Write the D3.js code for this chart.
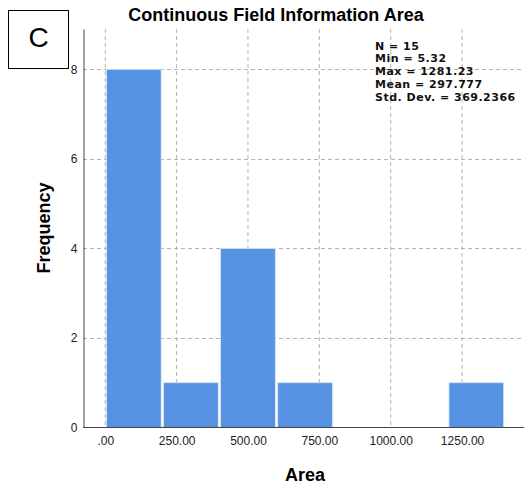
<!DOCTYPE html>
<html>
<head>
<meta charset="utf-8">
<script src="https://cdn.jsdelivr.net/npm/d3@7"></script>
<style>
  body { margin: 0; background: #fff; }
  svg { display: block; font-family: 'Liberation Sans', Arial, sans-serif; }
</style>
</head>
<body>
<div id="chart"></div>
<script>
// histogram data
const binStarts = [0, 200, 400, 600, 800, 1000, 1200]
const binCounts = [8, 1, 4, 1, 0, 0, 1]
const binWidth = 200
const xTicks = [0, 250, 500, 750, 1000, 1250]
const yTicks = [0, 2, 4, 6, 8]
const statLines = ['N = 15', 'Min = 5.32', 'Max = 1281.23', 'Mean = 297.777', 'Std. Dev. = 369.2366']
const title = 'Continuous Field Information Area'
const panelLabel = 'C'

const W = 524
const H = 490
const plot = { left: 83, right: 522, top: 29, bottom: 427.5 }
const barColor = '#5693e3'
const gridColor = '#b4b4b4'

const svg = d3.select('#chart').append('svg')
  .attr('width', W)
  .attr('height', H)

const x = d3.scaleLinear()
  .domain([-78, 1460])
  .range([plot.left, plot.right])
const y = d3.scaleLinear()
  .domain([0, 8.9])
  .range([plot.bottom, plot.top])

// grid
let grid = svg.append('g')
grid.selectAll('.vgrid')
  .data(xTicks)
  .enter()
  .append('line')
  .attr('x1', d => x(d))
  .attr('x2', d => x(d))
  .attr('y1', plot.top)
  .attr('y2', plot.bottom)
  .style('stroke', gridColor)
  .style('stroke-dasharray', '4,3')
grid.selectAll('.hgrid')
  .data(yTicks.filter(d => d > 0))
  .enter()
  .append('line')
  .attr('x1', plot.left)
  .attr('x2', W)
  .attr('y1', d => Math.round(y(d)) + 0.5)
  .attr('y2', d => Math.round(y(d)) + 0.5)
  .style('stroke', gridColor)
  .style('stroke-dasharray', '4,3')

// bars
svg.append('g')
  .selectAll('rect')
  .data(binStarts.map((s, i) => ({ start: s, count: binCounts[i] })).filter(d => d.count > 0))
  .enter()
  .append('rect')
  .attr('x', d => x(d.start) + 1.2)
  .attr('width', d => x(d.start + binWidth) - x(d.start) - 2.4)
  .attr('y', d => y(d.count))
  .attr('height', d => y(0) - y(d.count))
  .style('fill', barColor)
  .style('stroke', '#d6e5f8')
  .style('stroke-width', 0.8)

// axes
let yaxis = svg.append('g')
  .attr('transform', `translate(${plot.left + 0.5},0)`)
  .call(d3.axisLeft(y).tickValues(yTicks).tickSize(0).tickPadding(6).tickFormat(d3.format('d')))
yaxis.select('.domain').style('stroke', '#444')
yaxis.selectAll('text').style('font-size', '12px').style('fill', '#222').style('font-family', 'Liberation Sans, Arial, sans-serif')

let xaxis = svg.append('g')
  .attr('transform', `translate(0,${plot.bottom})`)
  .call(d3.axisBottom(x).tickValues(xTicks).tickSize(0).tickPadding(9)
    .tickFormat(d => d === 0 ? '.00' : d.toFixed(2)))
xaxis.select('.domain').remove()
xaxis.selectAll('text').style('font-size', '12px').style('fill', '#222').style('font-family', 'Liberation Sans, Arial, sans-serif')
svg.append('line')
  .attr('x1', plot.left)
  .attr('x2', W)
  .attr('y1', plot.bottom)
  .attr('y2', plot.bottom)
  .style('stroke', '#444')

// titles
svg.append('text')
  .attr('x', 276)
  .attr('y', 21)
  .attr('text-anchor', 'middle')
  .style('font-size', '18px')
  .style('font-weight', 'bold')
  .text(title)
svg.append('text')
  .attr('x', 305)
  .attr('y', 481)
  .attr('text-anchor', 'middle')
  .style('font-size', '18px')
  .style('font-weight', 'bold')
  .text('Area')
svg.append('text')
  .attr('transform', 'translate(50,228) rotate(-90)')
  .attr('text-anchor', 'middle')
  .style('font-size', '18px')
  .style('font-weight', 'bold')
  .text('Frequency')

// stats box (spacing kept just wide enough that lines don't collide)
svg.append('g')
  .selectAll('text')
  .data(statLines)
  .enter()
  .append('text')
  .attr('x', 375)
  .attr('y', (d, i) => 49.5 + i * 12.9)
  .style('font-family', 'DejaVu Sans, sans-serif')
  .style('font-size', '11px')
  .style('font-weight', 'bold')
  .style('letter-spacing', '0.5px')
  .style('fill', '#111')
  .text(d => d)

// panel label
svg.append('rect')
  .attr('x', 8.5)
  .attr('y', 10.5)
  .attr('width', 60)
  .attr('height', 58)
  .style('fill', '#fff')
  .style('stroke', '#000')
svg.append('text')
  .attr('x', 38.5)
  .attr('y', 47)
  .attr('text-anchor', 'middle')
  .style('font-size', '28px')
  .text(panelLabel)
</script>
</body>
</html>
